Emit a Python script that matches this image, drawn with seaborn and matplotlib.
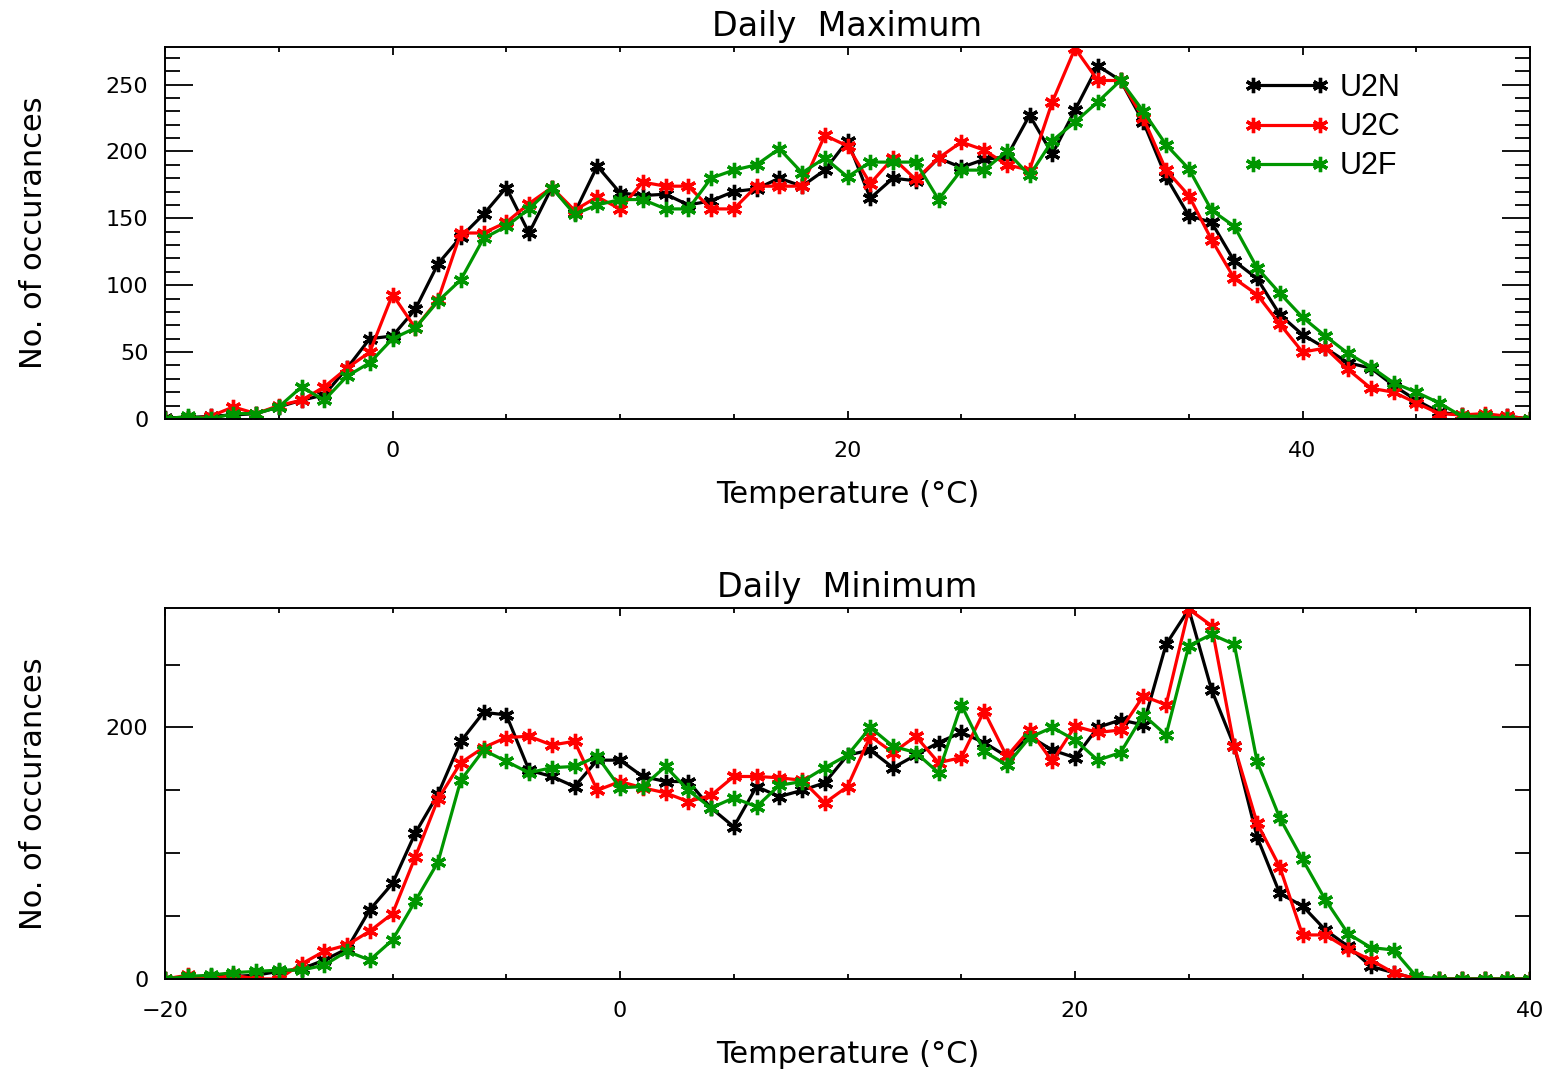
import numpy as np
import pandas as pd
import matplotlib
matplotlib.use('Agg')
import matplotlib.pyplot as plt
from matplotlib.ticker import MultipleLocator
import seaborn as sns

# temperature bins (1 degC)
t_max = list(range(-10, 51))
t_min = list(range(-20, 41))

# Daily Maximum counts
max_u2n = [1, 1, 2, 3, 4, 9, 14, 18, 38, 60, 62, 82, 116, 136, 153, 173, 139, 173, 154, 189,
           169, 167, 168, 160, 163, 170, 172, 180, 174, 186, 208, 165, 180, 178, 195, 188, 194, 196, 227, 198,
           231, 264, 253, 222, 181, 152, 147, 118, 105, 78, 63, 53, 42, 38, 25, 14, 5, 3, 2, 2, 0]
max_u2c = [0, 0, 2, 9, 4, 10, 14, 24, 38, 50, 93, 68, 89, 139, 139, 147, 161, 173, 156, 166,
           157, 177, 174, 174, 157, 157, 174, 174, 174, 212, 204, 176, 195, 179, 195, 207, 201, 190, 186, 237,
           277, 253, 253, 225, 186, 167, 134, 105, 93, 71, 50, 53, 37, 23, 20, 12, 4, 3, 4, 2, 0]
max_u2f = [0, 2, 0, 4, 4, 9, 24, 14, 32, 42, 60, 68, 88, 104, 135, 144, 157, 173, 153, 160,
           164, 164, 157, 157, 180, 186, 190, 202, 184, 195, 181, 192, 192, 192, 164, 186, 186, 200, 182, 208,
           222, 237, 253, 230, 205, 187, 156, 144, 113, 94, 76, 62, 49, 39, 27, 20, 12, 2, 2, 0, 0]

# Daily Minimum counts
min_u2n = [0, 0, 2, 2, 3, 6, 8, 15, 24, 55, 76, 116, 147, 189, 212, 210, 166, 161, 153, 174,
           174, 161, 157, 157, 136, 121, 153, 145, 150, 156, 178, 182, 168, 178, 188, 196, 188, 177, 193, 182,
           176, 200, 206, 202, 266, 294, 230, 185, 113, 68, 58, 39, 26, 10, 5, 0, 0, 0, 0, 0, 0]
min_u2c = [0, 3, 0, 3, 0, 0, 12, 22, 27, 38, 52, 97, 143, 172, 184, 192, 193, 186, 189, 150,
           157, 152, 148, 141, 146, 161, 161, 160, 158, 140, 153, 193, 180, 193, 172, 176, 213, 177, 198, 173,
           201, 196, 198, 225, 218, 294, 281, 185, 124, 89, 35, 35, 24, 15, 5, 0, 0, 0, 0, 0, 0]
min_u2f = [0, 2, 3, 5, 6, 7, 7, 11, 22, 15, 31, 62, 93, 158, 182, 173, 164, 168, 169, 177,
           152, 153, 169, 150, 136, 144, 137, 154, 157, 168, 178, 200, 185, 180, 164, 218, 181, 170, 192, 200,
           190, 174, 180, 210, 194, 265, 274, 266, 173, 128, 95, 63, 36, 25, 23, 2, 0, 0, 0, 0, 0]

runs = ['U2N', 'U2C', 'U2F']
colors = {'U2N': 'black', 'U2C': '#ff0000', 'U2F': '#009600'}

sns.set_style('white')
plt.rcParams['font.family'] = ['DejaVu Sans']
plt.rcParams['text.color'] = 'black'
plt.rcParams['axes.labelcolor'] = 'black'
plt.rcParams['xtick.color'] = 'black'
plt.rcParams['ytick.color'] = 'black'

fig = plt.figure(figsize=(15.51, 10.74), dpi=100)
ax1 = fig.add_axes([0.1064, 0.6099, 0.8801, 0.3463])
ax2 = fig.add_axes([0.1064, 0.0885, 0.8801, 0.3454])

asterisk = (6, 2, 0)


def draw_panel(ax, temps, series, title, xlim, ylim, xmaj, ymaj, ymin_step):
    for name, vals in zip(runs, series):
        df = pd.DataFrame({'T': temps, 'n': vals})
        sns.lineplot(data=df, x='T', y='n', ax=ax, color=colors[name], label=name,
                     marker=asterisk, markersize=11, mew=2.4, mec=colors[name],
                     linewidth=2.3, legend=False)
    ax.set_xlim(*xlim)
    ax.set_ylim(*ylim)
    ax.xaxis.set_major_locator(MultipleLocator(xmaj))
    ax.xaxis.set_minor_locator(MultipleLocator(5))
    ax.yaxis.set_major_locator(MultipleLocator(ymaj))
    ax.yaxis.set_minor_locator(MultipleLocator(ymin_step))
    ax.tick_params(which='both', direction='in', top=True, right=True, left=True, bottom=True,
                   color='black')
    ax.tick_params(axis='x', which='major', length=6, width=1.3, pad=16, labelsize=16)
    ax.tick_params(axis='x', which='minor', length=3.3, width=1.3)
    ax.tick_params(axis='y', which='major', length=20, width=1.3, pad=12, labelsize=16)
    ax.tick_params(axis='y', which='minor', length=11, width=1.3)
    for s in ax.spines.values():
        s.set_linewidth(1.4)
        s.set_color('black')
    ax.set_title(title, fontsize=24, pad=8, color='black')
    ax.set_xlabel('Temperature (°C)', fontsize=22)
    ax.set_ylabel('No. of occurances', fontsize=22)
    ax.xaxis.set_label_coords(0.5, -0.165)
    ax.yaxis.set_label_coords(-0.086, 0.5)


draw_panel(ax1, t_max, [max_u2n, max_u2c, max_u2f], 'Daily  Maximum',
           (-10, 50), (0, 278), 20, 50, 10)
draw_panel(ax2, t_min, [min_u2n, min_u2c, min_u2f], 'Daily  Minimum',
           (-20, 40), (0, 295), 20, 200, 50)

ax1.legend(loc='upper left', bbox_to_anchor=(0.79, 0.93), frameon=False, numpoints=2,
           handlelength=2.8, handletextpad=0.35, labelspacing=0.3, borderpad=0, borderaxespad=0,
           prop={'family': 'Liberation Sans', 'size': 22})

fig.savefig('out.png', dpi=100, facecolor='white')
